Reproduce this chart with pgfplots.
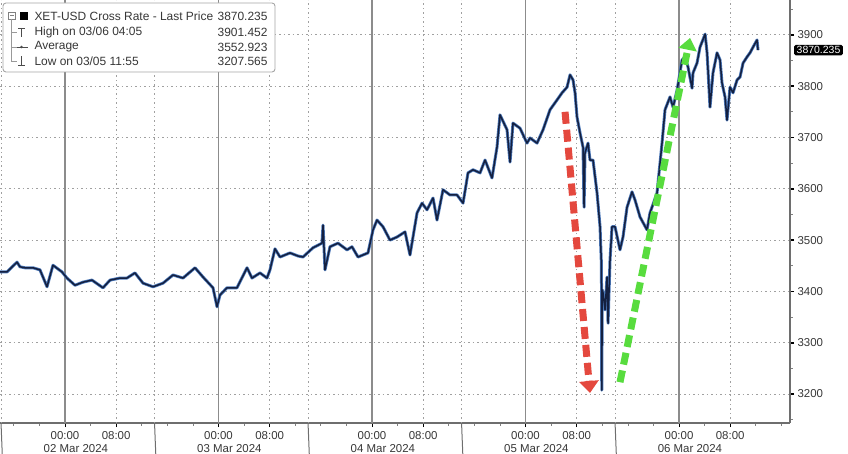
\documentclass[border=0pt]{standalone}
\usepackage{fontspec}
\setmainfont{Liberation Sans}
\usepackage{pgfplots}
\usepackage{pgfplotstable}
\pgfplotsset{compat=1.18}
\usetikzlibrary{arrows.meta}
\definecolor{navy}{RGB}{20,32,64}
\definecolor{halo}{RGB}{75,120,185}
\definecolor{gridc}{RGB}{160,160,160}
\definecolor{vgrid}{RGB}{140,140,140}
\definecolor{arrred}{RGB}{228,72,62}
\definecolor{arrgreen}{RGB}{88,220,62}
\definecolor{axc}{RGB}{110,110,110}
\definecolor{lblc}{RGB}{55,55,55}
\newcommand\lbl{\fontsize{11.5}{12}\selectfont}
\newcommand\leg{\fontsize{12}{13}\selectfont}

\pgfplotstableread{
t v
-10.16 3438
-9.07 3438
-7.50 3457
-7.04 3448
-6.25 3446
-5.00 3446
-3.91 3442
-2.81 3409
-1.88 3451
-0.47 3438
0.31 3426
1.56 3412
2.81 3418
4.22 3422
5.94 3407
7.04 3422
8.60 3426
9.69 3426
10.94 3436
12.20 3416
13.76 3409
15.32 3416
16.89 3432
18.45 3426
20.33 3446
21.58 3428
23.14 3407
23.77 3370
24.23 3393
25.33 3407
26.89 3407
28.46 3446
29.24 3426
30.49 3436
31.58 3426
32.05 3442
32.83 3483
33.62 3467
35.18 3475
36.43 3469
37.21 3467
38.77 3485
40.18 3494
40.34 3529
40.65 3442
41.43 3487
42.68 3494
44.09 3481
44.87 3487
45.81 3467
47.37 3475
48.16 3520
48.78 3539
49.72 3526
50.81 3500
51.91 3506
53.16 3516
53.94 3471
55.04 3553
55.82 3572
56.60 3559
57.54 3582
58.16 3539
59.10 3598
60.19 3588
61.29 3588
62.23 3572
63.01 3631
63.79 3637
64.89 3631
65.67 3656
66.76 3621
67.54 3681
68.01 3744
69.11 3715
69.58 3652
70.04 3728
71.14 3718
72.23 3689
72.70 3699
73.80 3689
74.74 3715
75.83 3754
76.92 3773
77.71 3787
78.49 3798
78.96 3822
79.43 3812
79.74 3787
80.05 3740
80.52 3709
80.99 3681
81.15 3564
81.30 3670
81.77 3689
82.08 3656
82.55 3656
83.18 3592
83.65 3526
83.87 3451
83.92 3207.565
84.00 3403
84.12 3397
84.43 3364
84.74 3428
84.90 3338
85.21 3461
85.52 3526
85.99 3526
86.77 3481
87.24 3506
87.87 3564
88.65 3594
89.12 3578
89.90 3545
90.99 3520
91.46 3553
92.56 3592
93.34 3689
93.81 3754
94.59 3779
95.06 3759
95.69 3792
96.47 3851
96.94 3857
97.41 3837
98.03 3796
98.19 3826
98.81 3845
99.28 3876
100.08 3901.452
100.38 3865
100.53 3831
100.84 3759
101.31 3826
101.94 3865
102.41 3851
102.72 3806
103.19 3779
103.50 3734
103.97 3798
104.44 3787
105.07 3812
105.54 3818
106.01 3845
106.63 3857
107.10 3865
107.57 3876
108.19 3890
108.35 3870.235
}\xet

\begin{document}
\begin{tikzpicture}[x=1bp,y=1bp]
\begin{axis}[
  at={(0bp,31bp)}, anchor=south west,
  scale only axis, width=790bp, height=423bp,
  xmin=-10.16, xmax=113.35, ymin=3143.5, ymax=3967.9,
  axis x line=bottom, axis y line=right,
  axis line style={-, draw=axc, line width=1.4bp},
  clip=false,
  tick align=outside,
  xtick={0,8,24,32,48,56,72,80,96,104},
  xticklabels={00:00,08:00,00:00,08:00,00:00,08:00,00:00,08:00,00:00,08:00},
  minor xtick={-8,-4,4,12,16,20,28,36,40,44,52,60,64,68,76,84,88,92,100,108,112},
  ytick={3200,3300,3400,3500,3600,3700,3800,3900},
  minor ytick={3150,3250,3350,3450,3550,3650,3750,3850,3950},
  ymajorgrids,
  y grid style={gridc, dash pattern=on 1.5bp off 3bp, line width=0.9bp},
  major tick length=4bp, minor tick length=2.5bp,
  x tick style={black, line width=0.9bp},
  minor x tick style={gray, line width=0.7bp},
  y tick style={black, line width=1.8bp},
  minor y tick style={gray, line width=0.7bp},
  tick label style={font=\lbl, text=lblc},
  /pgf/number format/assume math mode=true,
  /pgf/number format/1000 sep={},
  xticklabel style={yshift=-1bp},
]
% vertical grid lines
\pgfplotsinvokeforeach{0,24,48,72,96}{
  \draw[vgrid, line width=1.1bp] (axis cs:#1,3143.5) -- (axis cs:#1,3967.9);
}
\pgfplotsinvokeforeach{8,32,56,80,104}{
  \draw[gridc, dash pattern=on 1.5bp off 3bp, line width=0.9bp] (axis cs:#1,3143.5) -- (axis cs:#1,3967.9);
}
\pgfplotsinvokeforeach{-10,14,38,62,86}{
  \draw[gridc, dash pattern=on 1.5bp off 3bp, line width=0.9bp] (axis cs:#1,3143.5) -- (axis cs:#1,3967.9);
  \draw[axc, line width=1bp] (axis cs:#1,3143.5) -- ++(0,-31bp);
}
\addplot[halo, line width=3bp, line join=round] table[x=t,y=v]{\xet};
\addplot[navy, line width=1.5bp, line join=round] table[x=t,y=v]{\xet};
% annotation arrows
\draw[white, opacity=0.6, line width=9bp, dash pattern=on 12bp off 6bp]
  (axis cs:78.18,3750) -- (axis cs:81.9,3230);
\draw[arrred, line width=7bp, dash pattern=on 12bp off 6bp, -{Triangle[length=12bp,width=19bp]}]
  (axis cs:78.18,3750) -- (axis cs:82.08,3202);
\draw[arrgreen, line width=7bp, dash pattern=on 12bp off 6bp, -{Triangle[length=12bp,width=18bp]}]
  (axis cs:86.77,3223) -- (axis cs:97.72,3894);
% dates
\node[font=\lbl, text=lblc] at ([yshift=-26bp]axis cs:1.7,3143.5) {02 Mar 2024};
\node[font=\lbl, text=lblc] at ([yshift=-26bp]axis cs:25.7,3143.5) {03 Mar 2024};
\node[font=\lbl, text=lblc] at ([yshift=-26bp]axis cs:49.7,3143.5) {04 Mar 2024};
\node[font=\lbl, text=lblc] at ([yshift=-26bp]axis cs:73.7,3143.5) {05 Mar 2024};
\node[font=\lbl, text=lblc] at ([yshift=-26bp]axis cs:97.7,3143.5) {06 Mar 2024};
% last price tag
\node[fill=black, text=white, rounded corners=1.5bp, inner xsep=2.5bp, inner ysep=1.5bp, anchor=west, font=\fontsize{10.5}{11}\selectfont]
  at ([xshift=4bp]axis cs:113.35,3870.235) {3870.235};
\end{axis}
% legend box
\draw[gray!70, rounded corners=3bp, fill=white, line width=0.9bp] (3,451) rectangle (275,382);
\draw[gray, line width=0.7bp] (8.5,435) rectangle (15,441.5);
\draw[gray, line width=0.7bp] (10,438.25) -- (13.5,438.25);
\draw[gray!80, line width=0.7bp] (11.75,435) -- (11.75,393) -- (17,393);
\draw[gray!80, line width=0.7bp] (11.75,422) -- (17,422);
\draw[gray!80, line width=0.7bp] (11.75,407) -- (17,407);
\fill[black] (20,434) rectangle (28,442);
\draw[gray!60!black, line width=0.8bp] (18,426) -- (25,426) (21.5,426) -- (21.5,417);
\draw[gray!60!black, line width=0.8bp] (17,407) -- (28,407);
\fill[gray!60!black] (21.5,407) circle (1.3bp);
\draw[gray!60!black, line width=0.8bp] (18,389) -- (25,389) (21.5,389) -- (21.5,398);
\node[anchor=west, font=\leg, text=lblc] at (31,438) {XET-USD Cross Rate - Last Price};
\node[anchor=west, font=\leg, text=lblc] at (31,422) {High on 03/06 04:05};
\node[anchor=west, font=\leg, text=lblc] at (31,407) {Average};
\node[anchor=west, font=\leg, text=lblc] at (31,393) {Low on 03/05 11:55};
\node[anchor=east, font=\leg, text=lblc] at (271,438) {3870.235};
\node[anchor=east, font=\leg, text=lblc] at (271,422) {3901.452};
\node[anchor=east, font=\leg, text=lblc] at (271,407) {3552.923};
\node[anchor=east, font=\leg, text=lblc] at (271,393) {3207.565};
\pgfresetboundingbox
\path[use as bounding box] (0,0) rectangle (848,454);
\end{tikzpicture}
\end{document}
